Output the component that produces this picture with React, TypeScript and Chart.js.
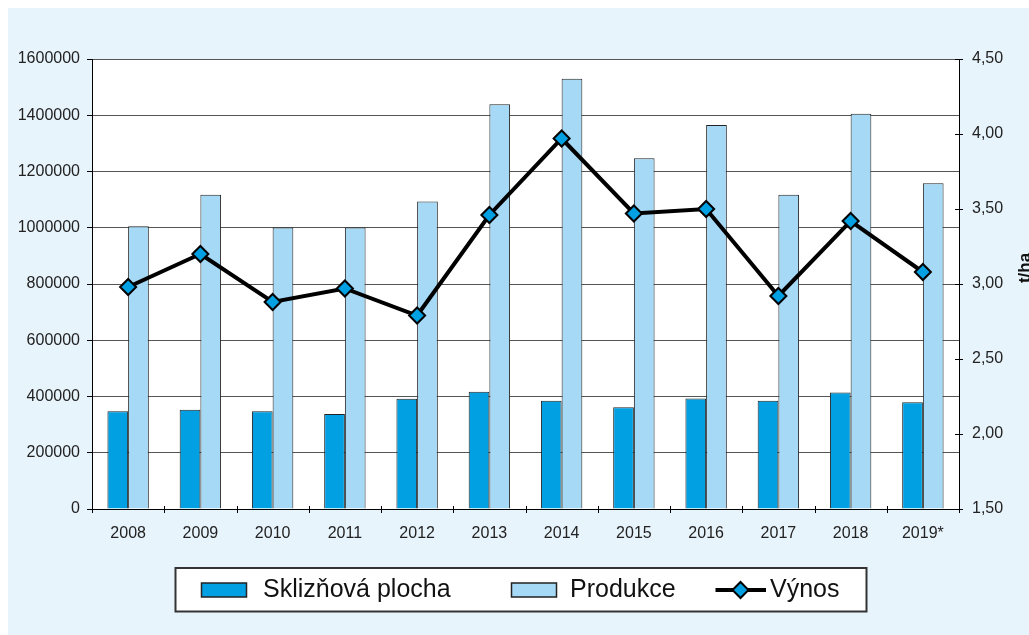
import { useEffect, useRef } from 'react';
import { Chart, registerables } from 'chart.js';

Chart.register(...registerables);

const years = ['2008', '2009', '2010', '2011', '2012', '2013', '2014', '2015', '2016', '2017', '2018', '2019*'];
const sklizPlocha = [348000, 353000, 348000, 338000, 392000, 417000, 385000, 362000, 393000, 385000, 414000, 380000];
const produkce = [1005000, 1117000, 1001000, 1001000, 1093000, 1439000, 1530000, 1247000, 1365000, 1117000, 1405000, 1158000];
const vynos = [2.98, 3.2, 2.88, 2.97, 2.79, 3.46, 3.97, 3.47, 3.5, 2.92, 3.42, 3.08];
const seriesNames = ['Sklizňová plocha', 'Produkce', 'Výnos'];
const leftAxis = { min: 0, max: 1600000, step: 200000 };
const rightAxis = { min: 1.5, max: 4.5, step: 0.5 };
const rightAxisTitle = 't/ha';

const DARK = '#00A0E2';
const LIGHT = '#A5D9F5';
const BG = '#E8F4FC';
const TICK_FONT = "'Liberation Sans', Arial, sans-serif";
const LEGEND_FONT = "'Liberation Sans', Arial, sans-serif";

function drawDiamond(ctx: CanvasRenderingContext2D, x: number, y: number, r: number) {
  ctx.beginPath();
  ctx.moveTo(x - r, y);
  ctx.lineTo(x, y - r);
  ctx.lineTo(x + r, y);
  ctx.lineTo(x, y + r);
  ctx.closePath();
  ctx.fillStyle = DARK;
  ctx.fill();
  ctx.lineWidth = 2;
  ctx.strokeStyle = '#000';
  ctx.stroke();
}

const decorPlugin = {
  id: 'decor',
  beforeDraw(chart: any) {
    const { ctx, chartArea: a, width, height } = chart;
    ctx.save();
    ctx.fillStyle = BG;
    ctx.fillRect(0, 0, width, height);
    ctx.fillStyle = '#fff';
    ctx.fillRect(a.left, a.top, a.right - a.left, a.bottom - a.top);
    ctx.restore();
  },
  afterDraw(chart: any) {
    const { ctx, chartArea: a } = chart;
    const xs = chart.scales.x;
    const y1 = chart.scales.y1;
    ctx.save();
    ctx.strokeStyle = '#000';
    ctx.lineWidth = 1;
    const n = years.length;
    for (let i = 0; i <= n; i++) {
      let px: number;
      if (i === 0) px = a.left;
      else if (i === n) px = a.right;
      else px = (xs.getPixelForValue(i - 1) + xs.getPixelForValue(i)) / 2;
      px = Math.round(px) + 0.5;
      ctx.beginPath();
      ctx.moveTo(px, a.bottom - 3);
      ctx.lineTo(px, a.bottom + 4);
      ctx.stroke();
    }
    for (let v = rightAxis.min; v <= rightAxis.max + 1e-9; v += rightAxis.step) {
      const py = Math.round(y1.getPixelForValue(v)) + 0.5;
      ctx.beginPath();
      ctx.moveTo(a.right - 4, py);
      ctx.lineTo(a.right + 4, py);
      ctx.stroke();
    }
    ctx.save();
    ctx.translate(1022, 260);
    ctx.rotate(-Math.PI / 2);
    ctx.font = `bold 17px ${LEGEND_FONT}`;
    ctx.fillStyle = '#111';
    ctx.textAlign = 'center';
    ctx.textBaseline = 'alphabetic';
    ctx.fillText(rightAxisTitle, 0, 0);
    ctx.restore();

    const ds = chart.data.datasets;
    ctx.fillStyle = '#fff';
    ctx.fillRect(167.5, 560, 691, 43.5);
    ctx.lineWidth = 2;
    ctx.strokeStyle = '#333';
    ctx.strokeRect(167.5, 560, 691, 43.5);

    ctx.font = `25px ${LEGEND_FONT}`;
    ctx.textBaseline = 'alphabetic';
    ctx.textAlign = 'left';

    const swY = 575, swH = 14;
    ctx.fillStyle = ds[1].backgroundColor;
    ctx.fillRect(193.5, swY, 45, swH);
    ctx.lineWidth = 1.5;
    ctx.strokeStyle = '#222';
    ctx.strokeRect(193.5, swY, 45, swH);
    ctx.fillStyle = '#111';
    ctx.fillText(ds[1].label, 255, 589);
    ctx.fillStyle = ds[2].backgroundColor;
    ctx.fillRect(503.5, swY, 45, swH);
    ctx.strokeStyle = '#222';
    ctx.strokeRect(503.5, swY, 45, swH);
    ctx.fillStyle = '#111';
    ctx.fillText(ds[2].label, 562, 589);
    ctx.beginPath();
    ctx.moveTo(707.5, swY + swH / 2);
    ctx.lineTo(758, swY + swH / 2);
    ctx.lineWidth = 4;
    ctx.strokeStyle = '#000';
    ctx.stroke();
    drawDiamond(ctx, 732.5, swY + swH / 2, 8);
    ctx.fillStyle = '#111';
    ctx.fillText(ds[0].label, 762, 589);
    ctx.restore();
  },
};

export default function App() {
  const ref = useRef<HTMLCanvasElement | null>(null);
  useEffect(() => {
    document.documentElement.style.overflow = 'hidden';
    const canvas = ref.current;
    if (!canvas) return;
    const tickFont = { family: TICK_FONT, size: 16 };
    const chart = new Chart(canvas, {
      type: 'bar',
      data: {
        labels: years,
        datasets: [
          {
            type: 'line',
            label: seriesNames[2],
            data: vynos,
            yAxisID: 'y1',
            borderColor: '#000',
            borderWidth: 4,
            pointStyle: 'rectRot',
            pointRadius: 8,
            pointBackgroundColor: DARK,
            pointBorderColor: '#000',
            pointBorderWidth: 2,
            tension: 0,
            order: 0,
          } as any,
          {
            type: 'bar',
            label: seriesNames[0],
            data: sklizPlocha,
            yAxisID: 'y',
            backgroundColor: DARK,
            borderColor: '#222',
            borderWidth: 1,
            categoryPercentage: 0.573,
            barPercentage: 1,
            order: 1,
          },
          {
            type: 'bar',
            label: seriesNames[1],
            data: produkce,
            yAxisID: 'y',
            backgroundColor: LIGHT,
            borderColor: '#222',
            borderWidth: 1,
            categoryPercentage: 0.573,
            barPercentage: 1,
            order: 2,
          },
        ],
      },
      options: {
        responsive: false,
        animation: false,
        devicePixelRatio: 1,
        layout: { padding: { top: 51, bottom: 96, left: 0, right: 0 } },
        plugins: { legend: { display: false }, tooltip: { enabled: false }, title: { display: false } },
        scales: {
          x: {
            type: 'category',
            offset: true,
            grid: { display: false },
            border: { display: true, color: '#000', width: 1 },
            ticks: { font: tickFont, color: '#222', padding: 7, maxRotation: 0, autoSkip: false },
            afterFit: (s: any) => { s.height = 30; },
          },
          y: {
            type: 'linear',
            position: 'left',
            min: leftAxis.min,
            max: leftAxis.max,
            ticks: { stepSize: leftAxis.step, font: tickFont, color: '#222', padding: 7, callback: (v: any) => String(v) },
            grid: { color: '#555', lineWidth: 1, tickLength: 5, drawTicks: true, tickColor: '#000' },
            border: { display: true, color: '#000', width: 1 },
            afterFit: (s: any) => { s.width = 84; },
          },
          y1: {
            type: 'linear',
            position: 'right',
            min: rightAxis.min,
            max: rightAxis.max,
            ticks: {
              stepSize: rightAxis.step,
              font: tickFont,
              color: '#222',
              padding: 13,
              callback: (v: any) => Number(v).toFixed(2).replace('.', ','),
            },
            grid: { drawOnChartArea: false, drawTicks: false },
            border: { display: true, color: '#000', width: 1 },
            afterFit: (s: any) => { s.width = 70; },
          },
        },
      },
      plugins: [decorPlugin],
    });
    return () => chart.destroy();
  }, []);
  return (
    <div style={{ position: 'fixed', left: 8, top: 8, width: 1021, height: 627, overflow: 'hidden' }}>
      <canvas ref={ref} width={1021} height={627} style={{ display: 'block' }} />
    </div>
  );
}
